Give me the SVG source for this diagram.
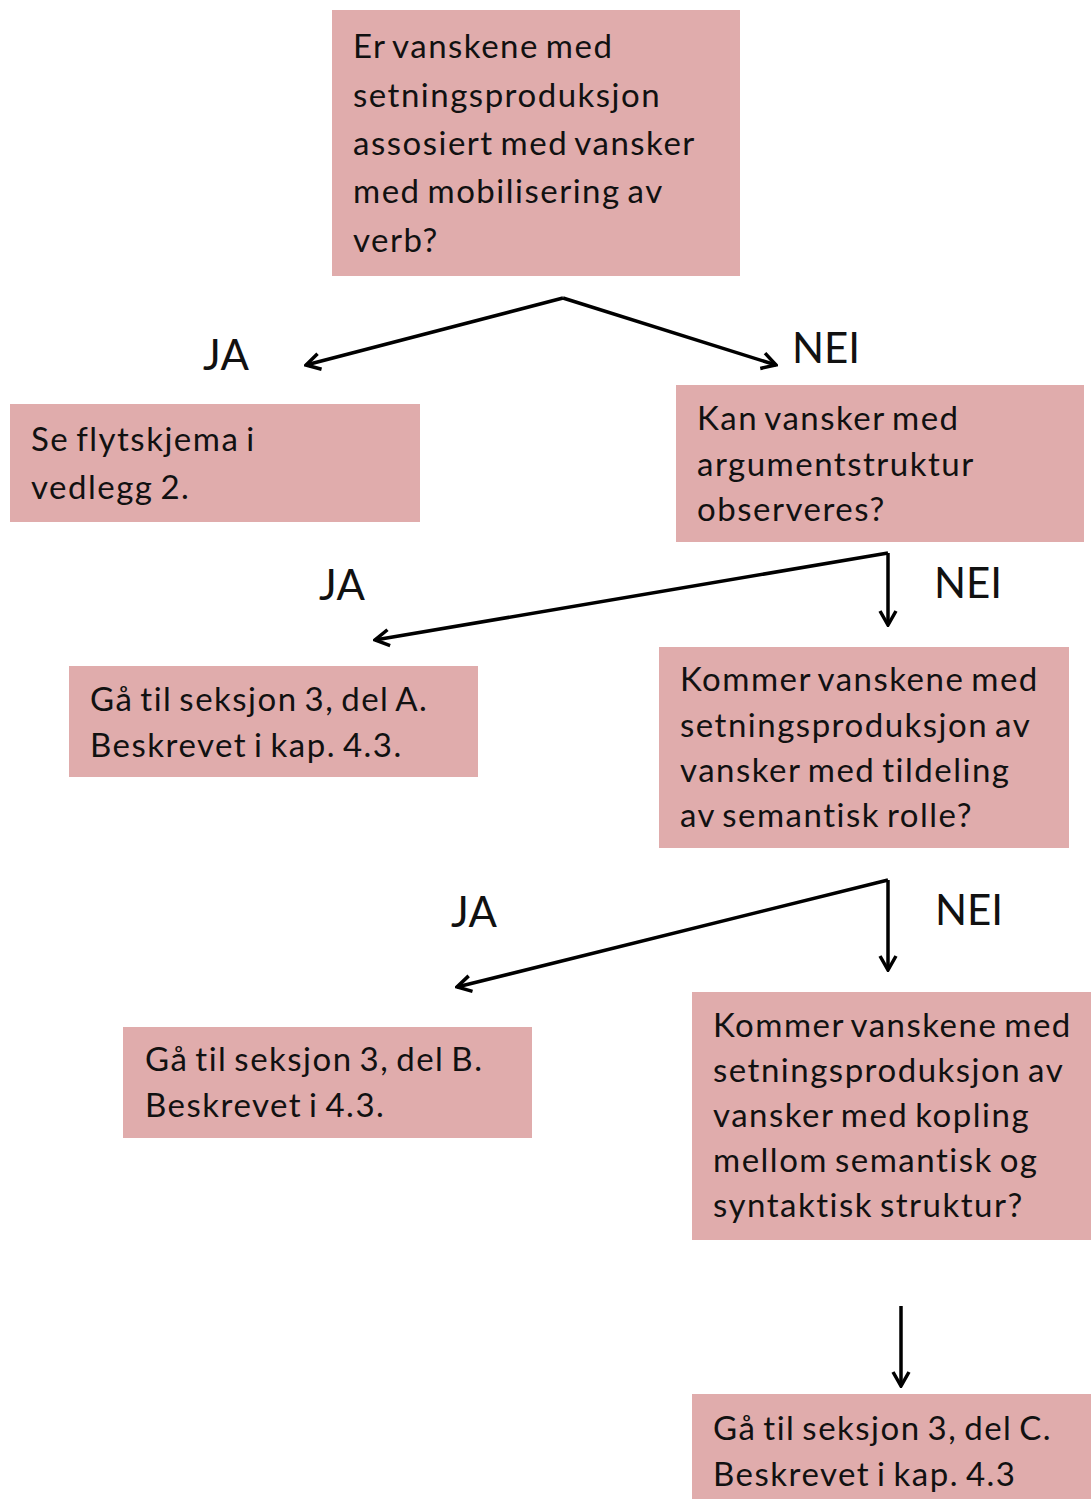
<svg xmlns="http://www.w3.org/2000/svg" width="1091" height="1499" viewBox="0 0 1091 1499">
<style>
.box{fill:#E0ACAC}
.t{font-family:Lato,"Open Sans","Liberation Sans",sans-serif;font-size:33px;letter-spacing:1.5px;word-spacing:-3px;fill:#111}
.lbl{font-family:Lato,"Open Sans","Liberation Sans",sans-serif;font-size:42px;fill:#111}
.c{fill:none;stroke:#000;stroke-width:3.5}
</style>
<defs>
<marker id="ah" viewBox="0 0 20 20" refX="18" refY="10" markerWidth="20" markerHeight="20" markerUnits="userSpaceOnUse" orient="auto">
<polyline points="4,2 18,10 4,18" fill="none" stroke="#000" stroke-width="3.5"/>
</marker>
</defs>
<rect width="1091" height="1499" fill="#fff"/>
<g id="n1"><rect class="box" x="332" y="10" width="408" height="266"/>
<text class="t" x="353" y="58">Er vanskene med</text>
<text class="t" x="353" y="107">setningsproduksjon</text>
<text class="t" x="353" y="155">assosiert med vansker</text>
<text class="t" x="353" y="203">med mobilisering av</text>
<text class="t" x="353" y="252">verb?</text></g>
<g id="n2"><rect class="box" x="10" y="404" width="410" height="118"/>
<text class="t" x="31" y="451">Se flytskjema i</text>
<text class="t" x="31" y="499">vedlegg 2.</text></g>
<g id="n3"><rect class="box" x="676" y="385" width="408" height="157"/>
<text class="t" x="697" y="430">Kan vansker med</text>
<text class="t" x="697" y="476">argumentstruktur</text>
<text class="t" x="697" y="521">observeres?</text></g>
<g id="n4"><rect class="box" x="69" y="666" width="409" height="111"/>
<text class="t" x="90" y="711">Gå til seksjon 3, del A.</text>
<text class="t" x="90" y="757">Beskrevet i kap. 4.3.</text></g>
<g id="n5"><rect class="box" x="659" y="647" width="410" height="201"/>
<text class="t" x="680" y="691">Kommer vanskene med</text>
<text class="t" x="680" y="737">setningsproduksjon av</text>
<text class="t" x="680" y="782">vansker med tildeling</text>
<text class="t" x="680" y="827">av semantisk rolle?</text></g>
<g id="n6"><rect class="box" x="123" y="1027" width="409" height="111"/>
<text class="t" x="145" y="1071">Gå til seksjon 3, del B.</text>
<text class="t" x="145" y="1117">Beskrevet i 4.3.</text></g>
<g id="n7"><rect class="box" x="692" y="992" width="399" height="248"/>
<text class="t" x="713" y="1037">Kommer vanskene med</text>
<text class="t" x="713" y="1082">setningsproduksjon av</text>
<text class="t" x="713" y="1127">vansker med kopling</text>
<text class="t" x="713" y="1172">mellom semantisk og</text>
<text class="t" x="713" y="1217">syntaktisk struktur?</text></g>
<g id="n8"><rect class="box" x="692" y="1394" width="399" height="105"/>
<text class="t" x="713" y="1440">Gå til seksjon 3, del C.</text>
<text class="t" x="713" y="1486">Beskrevet i kap. 4.3</text></g>
<g id="labels">
<text class="lbl" x="226" y="370" text-anchor="middle">JA</text>
<text class="lbl" x="826" y="363" text-anchor="middle">NEI</text>
<text class="lbl" x="342" y="600" text-anchor="middle">JA</text>
<text class="lbl" x="968" y="598" text-anchor="middle">NEI</text>
<text class="lbl" x="474" y="927" text-anchor="middle">JA</text>
<text class="lbl" x="969" y="925" text-anchor="middle">NEI</text>
</g>
<g id="connectors">
<polyline class="c" points="563,298 306,365" marker-end="url(#ah)"/>
<polyline class="c" points="563,298 776,365" marker-end="url(#ah)"/>
<polyline class="c" points="888,553 375,640" marker-end="url(#ah)"/>
<polyline class="c" points="888,553 888,625" marker-end="url(#ah)"/>
<polyline class="c" points="888,880 457,987" marker-end="url(#ah)"/>
<polyline class="c" points="888,880 888,970" marker-end="url(#ah)"/>
<polyline class="c" points="901,1306 901,1386" marker-end="url(#ah)"/>
</g>
</svg>
